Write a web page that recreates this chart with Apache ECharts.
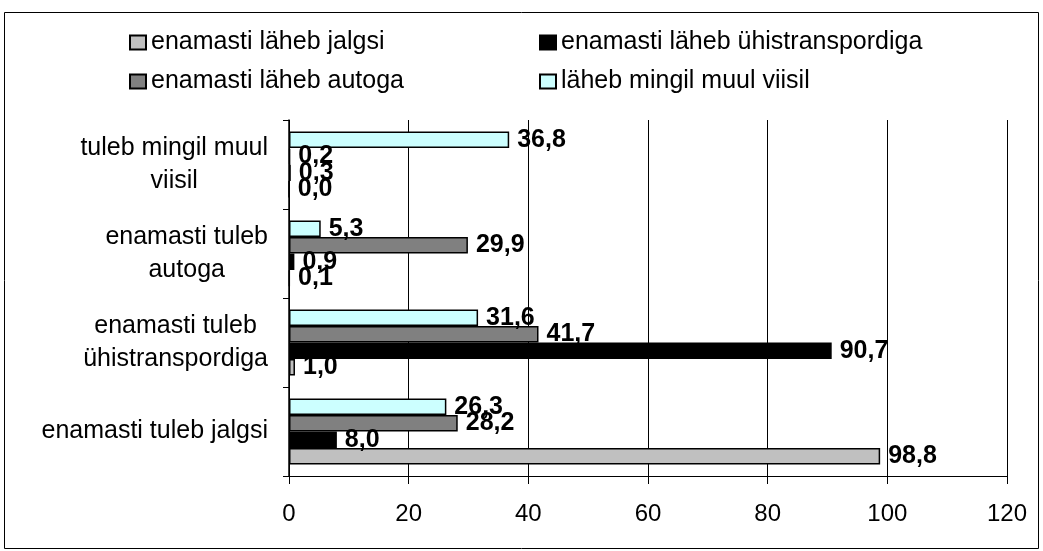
<!DOCTYPE html>
<html>
<head>
<meta charset="utf-8">
<script src="https://cdn.jsdelivr.net/npm/echarts@6/dist/echarts.min.js"></script>
<style>
  html, body { margin: 0; padding: 0; background: #fff; }
  #chart { width: 1043px; height: 551px; }
</style>
</head>
<body>
<div id="chart"></div>
<script>
// categories, bottom to top
var categories = [
  "enamasti tuleb jalgsi",
  "enamasti tuleb\nühistranspordiga",
  "enamasti tuleb\nautoga",
  "tuleb mingil muul\nviisil"
];
var seriesNames = [
  "enamasti läheb jalgsi",
  "enamasti läheb ühistranspordiga",
  "enamasti läheb autoga",
  "läheb mingil muul viisil"
];
var jalgsi = [98.8, 1.0, 0.1, 0.0];
var yhis = [8.0, 90.7, 0.9, 0.3];
var autoga = [28.2, 41.7, 29.9, 0.2];
var muul = [26.3, 31.6, 5.3, 36.8];
var xTicks = [0, 20, 40, 60, 80, 100, 120];

var font = "Liberation Sans";
var colors = ["#c0c0c0", "#000000", "#808080", "#ccffff"];
var values = [jalgsi, yhis, autoga, muul];

var chart = echarts.init(document.getElementById("chart"));

function fmt(v) {
  return v.toFixed(1).replace(".", ",");
}

// legend spots (2x2, like the original)
var legendPos = [
  { left: 129, top: 30 },
  { left: 539, top: 30 },
  { left: 129, top: 69 },
  { left: 539, top: 69 }
];
var legends = seriesNames.map(function (n, i) {
  return {
    data: [n],
    left: legendPos[i].left,
    top: legendPos[i].top,
    padding: 0,
    icon: "rect",
    itemWidth: 16,
    itemHeight: 14,
    itemGap: 0,
    textStyle: { fontFamily: font, fontSize: 25, color: "#000" }
  };
});

// ECharts puts the first series on top inside a category, the original has jalgsi at the bottom
var series = seriesNames.map(function (n, i) {
  return {
    name: n,
    type: "bar",
    data: values[i],
    barGap: "0%",
    barCategoryGap: "26%",
    itemStyle: { color: colors[i], borderColor: "#000", borderWidth: 1.5 },
    label: {
      show: true,
      position: "right",
      distance: 8,
      fontFamily: font,
      fontSize: 25,
      fontWeight: "bold",
      color: "#000",
      formatter: function (p) { return fmt(p.value); }
    },
    emphasis: { disabled: true }
  };
}).reverse();

var option = {
  animation: false,
  backgroundColor: "#fff",
  legend: legends,
  grid: { left: 289, right: 36, top: 120, bottom: 75 },
  xAxis: {
    type: "value",
    min: 0,
    max: 120,
    interval: 20,
    axisLine: { show: true, lineStyle: { color: "#000", width: 1 } },
    axisTick: { show: true, length: 8, lineStyle: { color: "#000" } },
    axisLabel: {
      fontFamily: font, fontSize: 24, color: "#000", margin: 26,
      formatter: function (v) { return xTicks.indexOf(v) >= 0 ? String(v) : ""; }
    },
    splitLine: { show: true, lineStyle: { color: "#000", width: 1 } }
  },
  yAxis: {
    type: "category",
    data: categories,
    axisLine: { show: true, lineStyle: { color: "#000", width: 1.5 } },
    axisTick: { show: true, inside: false, length: 6, lineStyle: { color: "#000" } },
    axisLabel: {
      margin: 21,
      formatter: function (v) {
        return v.split("\n").map(function (s) { return "{c|" + s + "}"; }).join("\n");
      },
      rich: {
        c: { fontFamily: font, fontSize: 25, color: "#000", align: "center", lineHeight: 33 }
      }
    }
  },
  series: series,
  graphic: [{
    type: "rect",
    shape: { x: 4.5, y: 12.5, width: 1034, height: 536 },
    style: { fill: "none", stroke: "#000", lineWidth: 1 },
    silent: true
  }]
};

chart.setOption(option);
</script>
</body>
</html>
